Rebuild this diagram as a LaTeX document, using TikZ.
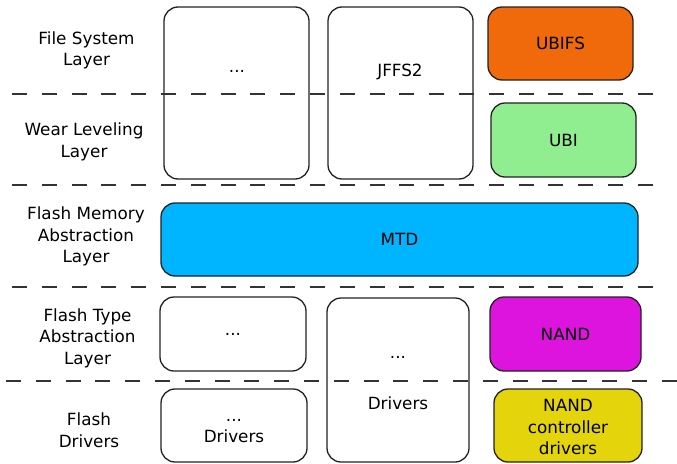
\documentclass[tikz,border=0pt]{standalone}
\usepackage{fontspec}
\setmainfont{DejaVu Sans}
\definecolor{cUBIFS}{HTML}{F06A0C}
\definecolor{cUBI}{HTML}{90EE90}
\definecolor{cMTD}{HTML}{00B5FF}
\definecolor{cNAND}{HTML}{DD14DE}
\definecolor{cCTRL}{HTML}{E3D40B}
\definecolor{cLine}{HTML}{222222}
\definecolor{cDash}{HTML}{333333}
\begin{document}
\begin{tikzpicture}[x=1pt,y=-1pt,
  every node/.style={font=\fontsize{16.8}{21.5}\selectfont, text=black, inner sep=0pt, align=center},
  layerbox/.style={draw=cLine, line width=1.3pt, rounded corners=14pt, rectangle},
  sep/.style={draw=cDash, line width=1.5pt, dash pattern=on 15pt off 14.8pt},
]
\useasboundingbox (0,0) rectangle (677,463);
\fill[white] (0,0) rectangle (677,463);
% boxes
\node[layerbox, minimum width=145pt, minimum height=172pt] (bOther) at (236.5,93) {};
\node[layerbox, minimum width=145pt, minimum height=172pt] (bJFFS) at (400.5,93) {};
\node[layerbox, fill=cUBIFS, minimum width=145pt, minimum height=73pt] (bUBIFS) at (560.5,43.5) {UBIFS};
\node[layerbox, fill=cUBI, minimum width=145pt, minimum height=74pt] (bUBI) at (563.5,140) {UBI};
\node[layerbox, fill=cMTD, minimum width=477pt, minimum height=73pt] (bMTD) at (399.5,239.5) {MTD};
\node[layerbox, minimum width=146pt, minimum height=74pt] (bFTA) at (233,334) {...};
\node[layerbox, minimum width=142pt, minimum height=164pt] (bDrv) at (398,380) {};
\node[layerbox, fill=cNAND, minimum width=151pt, minimum height=74pt] (bNAND) at (565.5,334) {NAND};
\node[layerbox, minimum width=146pt, minimum height=73pt] (bFD) at (234,425.5) {};
\node[layerbox, fill=cCTRL, minimum width=148pt, minimum height=73pt] (bCtrl) at (568,425.5) {};
% texts in tall / offset boxes
\node (tOther) at (237,71) {...};
\node (tJFFS) at (400,72) {JFFS2};
\node (tDrvA) at (398,357) {...};
\node (tDrvB) at (398,403) {Drivers};
\node (tFD) at (234,431) {...\\Drivers};
\node (tCtrl) at (568,427) {NAND\\controller\\drivers};
% layer labels
\node (lFS) at (86.5,50.5) {File System\\Layer};
\node (lWL) at (84,142) {Wear Leveling\\Layer};
\node (lFM) at (86,236.5) {Flash Memory\\Abstraction\\Layer};
\node (lFT) at (87.5,338) {Flash Type\\Abstraction\\Layer};
\node (lFD) at (89,430) {Flash\\Drivers};
% separators
\coordinate (s1a) at (12,94);  \coordinate (s1b) at (664,94);
\coordinate (s2a) at (12,185); \coordinate (s2b) at (664,185);
\coordinate (s3a) at (12,287); \coordinate (s3b) at (664,287);
\coordinate (s4a) at (6,381);  \coordinate (s4b) at (677,381);
\draw[sep] (s1a) -- (s1b);
\draw[sep] (s2a) -- (s2b);
\draw[sep] (s3a) -- (s3b);
\draw[sep] (s4a) -- (s4b);
\end{tikzpicture}
\end{document}
